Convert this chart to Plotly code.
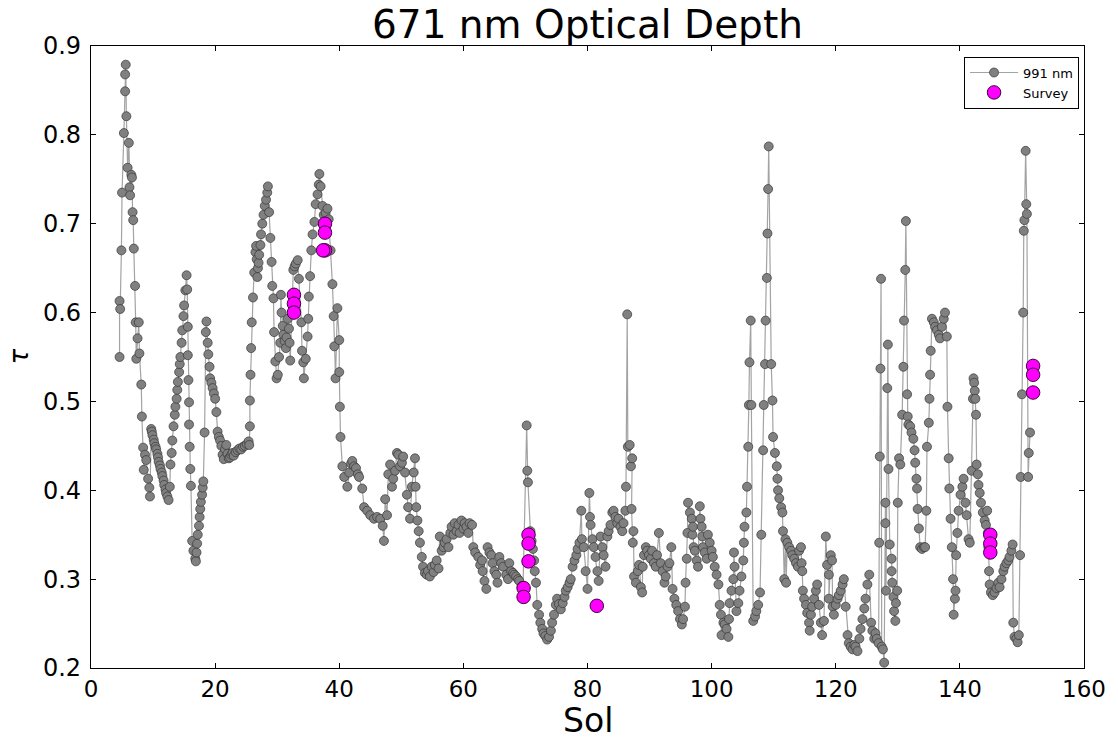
import plotly.graph_objects as go

# ---- 991 nm optical depth series (Sol, tau), in time order ----
sol_seg1 = [4.6,4.6,4.7,4.9,5.0,5.3,5.5,5.5,5.6,5.7,5.9,6.1,6.2,6.3,6.5,6.6,6.7,6.8,6.9,7.1,7.2,7.3,7.5,7.7,7.8,8.1,8.2,8.4,8.5,8.7,8.9,9.2,9.4,9.5,
            9.7,9.8,9.9,10.1,10.2,10.4,10.5,10.7,10.8,10.9,11.1,11.2,11.4,11.5,11.7,11.8,12.0,12.1,12.3,12.5,
            12.7,12.8,13.0,13.1,13.3,13.5,13.6,13.8,13.9,14.0,14.2,14.3,14.4,14.6,14.7,14.9,15.0,15.2,15.4,
            15.5,15.6,15.6,15.7,15.8,15.8,15.9,16.0,16.1,16.3,16.5,16.8,16.9,17.0,17.1,17.2,17.4,17.5,17.6,17.7,
            17.9,18.0,18.1,18.3,18.5,18.6,18.8,18.9,19.1,19.2,19.4,19.6,19.8,20.0,20.2,20.4,20.6,20.8,21.0,21.2,
            21.4,21.6,21.8,22.0,22.2,22.4,22.6,22.8,23.0,23.3,23.6,23.9,24.2,24.5,24.8,25.1,25.4]
tau_seg1 = [0.550,0.613,0.604,0.670,0.735,0.802,0.849,0.868,0.879,0.821,0.763,0.791,0.741,0.732,0.755,0.752,0.713,0.704,0.672,0.630,0.589,0.548,0.571,0.589,0.554,0.519,0.483,0.448,0.423,0.440,0.434,0.413,0.403,0.393,
            0.469,0.466,0.462,0.457,0.453,0.449,0.446,0.441,0.437,0.432,0.428,0.424,0.420,0.416,0.411,0.406,0.401,0.397,0.393,0.389,
            0.404,0.429,0.442,0.456,0.472,0.485,0.494,0.503,0.513,0.522,0.533,0.542,0.550,0.566,0.580,0.596,0.608,0.625,0.642,
            0.626,0.584,0.552,0.524,0.499,0.474,0.449,0.424,0.405,0.343,0.332,0.323,0.320,0.330,0.340,0.350,0.360,0.370,0.379,0.387,
            0.395,0.403,0.410,0.465,0.578,0.590,0.566,0.553,0.539,0.526,0.521,0.515,0.509,0.503,0.488,0.466,0.460,0.456,0.450,0.440,
            0.435,0.446,0.451,0.441,0.436,0.437,0.440,0.442,0.439,0.443,0.445,0.447,0.446,0.449,0.450,0.452,0.455]

sol_seg2 = [25.5,25.6,25.6,25.7,25.8,25.9,26.1,26.3,26.5,26.6,26.7,26.8,26.9,27.0,27.1,27.3,27.4,27.6,27.8,28.0,
            28.2,28.4,28.5,28.7,28.9,29.1,29.2,29.4,29.5,29.7,29.9,30.1,30.3,30.5,30.6,30.7,30.9,31.0,31.2,31.4,
            31.5,31.7,31.9,32.0,32.1,
            32.6,32.8,33.0,33.3,33.5,33.9,34.0,34.2,34.3,34.6,34.9,35.0,35.1,35.3,35.5,35.7,36.0,36.2,36.5,36.7,
            36.8,37.0,37.3,37.5,37.8,38.1,38.3,38.6,38.9,39.1,39.2,39.4,39.7,40.0,40.0,40.1,40.2,40.5,40.8,41.3,
            41.6,41.9,42.1,42.4,42.7,43.0,43.2,43.7,44.0,44.5,45.0,45.6,46.1,46.6,47.0,47.2]
tau_seg2 = [0.451,0.472,0.501,0.530,0.560,0.589,0.617,0.645,0.668,0.675,0.660,0.640,0.650,0.656,0.665,0.676,0.688,0.700,0.710,0.720,
            0.727,0.735,0.742,0.713,0.684,0.657,0.630,0.616,0.578,0.545,0.526,0.530,0.550,0.566,0.620,0.600,0.585,0.575,0.568,0.560,
            0.572,0.593,0.582,0.566,0.546,
            0.648,0.652,0.655,0.659,0.638,0.589,0.557,0.544,0.526,0.548,0.573,0.593,0.618,0.641,0.670,0.688,0.702,0.722,0.733,0.744,
            0.756,0.742,0.720,0.710,0.712,0.717,0.705,0.670,0.632,0.596,0.562,0.526,0.605,0.569,0.533,0.494,0.460,0.427,0.415,0.404,
            0.420,0.430,0.433,0.427,0.425,0.418,0.415,0.402,0.381,0.377,0.372,0.368,0.370,0.368,0.360,0.343]

sol_seg3 = [47.4,47.7,47.9,48.2,48.5,48.7,49.0,49.3,49.5,49.8,50.1,50.3,50.6,50.9,51.1,51.4,51.7,52.0,52.2,52.3,
            52.4,52.6,52.8,53.0,53.3,53.5,53.8,54.1,54.3,54.6,54.9,55.2,55.4,55.7,56.0,56.2,56.5,56.8,57.0,57.3,
            57.6,57.9,58.1,58.4,58.6,58.9,59.2,59.4,59.7,60.0,60.2,60.5,60.8,61.0,61.4,61.6,61.9,62.4,62.7,63.0,
            63.1,63.4,63.7,63.9,64.2,64.5,64.7,65.0,65.3,65.5,65.8,66.1,66.4,66.9,67.2,67.4,67.7,68.0,68.2,68.5,
            68.8,69.0,69.4,69.6,70.2,70.3,70.4,70.8,71.0,71.2,71.4,71.5,71.7,71.9,72.2,72.4,72.7,72.9,73.2,73.5,
            73.8,74.1,74.3,74.6,74.9,75.1,75.4,75.7,76.0,76.3,76.5,76.8,77.1,77.3,77.6,77.9,78.2,78.4,78.7,79.0]
tau_seg3 = [0.390,0.372,0.418,0.429,0.404,0.413,0.422,0.442,0.440,0.427,0.431,0.438,0.420,0.395,0.381,0.368,0.404,0.420,0.436,0.404,
            0.381,0.366,0.354,0.341,0.325,0.314,0.307,0.305,0.309,0.303,0.314,0.308,0.316,0.321,0.312,0.348,0.332,0.336,0.341,0.345,
            0.336,0.352,0.359,0.350,0.363,0.354,0.361,0.352,0.366,0.357,0.363,0.359,0.352,0.363,0.361,0.336,0.330,0.325,0.316,0.321,
            0.309,0.298,0.289,0.336,0.330,0.327,0.318,0.309,0.305,0.296,0.325,0.318,0.314,0.305,0.300,0.318,0.309,0.307,0.305,0.303,
            0.300,0.298,0.292,0.287,0.473,0.422,0.409,0.354,0.343,0.334,0.321,0.309,0.296,0.271,0.260,0.251,0.244,0.239,0.236,0.232,
            0.235,0.242,0.251,0.260,0.271,0.278,0.272,0.266,0.273,0.280,0.287,0.291,0.296,0.300,0.314,0.321,0.327,0.334,0.341,0.377]

sol_seg4 = [79.1,79.4,79.7,80.0,80.3,80.4,80.5,80.8,81.0,81.3,81.6,81.8,82.1,82.4,82.6,82.9,83.2,83.4,83.7,84.0,
            84.2,84.5,84.8,85.0,85.3,85.6,85.8,86.1,86.2,86.4,86.5,86.8,87.0,87.2,87.1,87.3,87.4,87.5,87.8,88.1,
            88.3,88.6,88.8,88.9,89.1,89.4,89.6,89.9,90.2,90.4,90.7,91.0,91.2,91.5,91.8,92.1,92.4,92.6,92.9,93.2,
            93.5,93.7,94.0,94.3,94.6,94.9,
            95.2,95.4,95.7,95.8,96.0,96.1,96.2,96.5,96.8,96.9,97.0,97.1,97.3,97.6,97.8,98.1,98.2,98.4,98.5,98.6,
            98.9,99.2,99.4,99.7,100.0,100.2,100.5,100.8,101.1,101.3,101.5,101.6,101.9,102.1,102.4,102.7,102.8,102.9,103.2,103.5,
            103.6,103.7,104.0,104.3,104.5,104.8,105.1,105.2,105.3,105.6,105.7,105.9,106.0,106.1,106.3,106.4,106.7,107.0,107.2,107.5,
            107.8,108.0,108.3,108.4,108.6,108.7,108.9,109.0,109.1,109.2,109.6,109.8,109.9,110.2,110.5,110.6,110.7]
tau_seg4 = [0.345,0.336,0.309,0.289,0.397,0.370,0.361,0.345,0.336,0.325,0.309,0.298,0.348,0.336,0.327,0.314,0.348,0.354,0.361,0.375,
            0.377,0.370,0.363,0.368,0.359,0.354,0.363,0.377,0.404,0.598,0.449,0.451,0.427,0.436,0.379,0.341,0.354,0.303,0.296,0.309,
            0.316,0.291,0.285,0.314,0.327,0.336,0.332,0.327,0.323,0.332,0.318,0.314,0.327,0.352,0.318,0.309,0.296,0.303,0.314,0.318,
            0.336,0.289,0.278,0.271,0.264,0.255,
            0.249,0.255,0.269,0.296,0.323,0.352,0.386,0.375,0.368,0.350,0.359,0.336,0.332,0.321,0.314,0.382,0.368,0.359,0.348,0.336,
            0.330,0.323,0.350,0.341,0.332,0.325,0.314,0.305,0.294,0.271,0.260,0.237,0.251,0.249,0.244,0.235,0.255,0.273,0.287,0.300,
            0.330,0.314,0.264,0.273,0.287,0.303,0.321,0.341,0.359,0.375,0.404,0.449,0.496,0.544,0.591,0.496,0.253,0.258,0.264,0.271,
            0.285,0.350,0.445,0.496,0.542,0.591,0.639,0.689,0.739,0.787,0.542,0.501,0.460,0.442,0.427,0.413,0.400]

sol_seg5 = [110.9,111.2,111.4,111.5,111.7,111.9,112.0,112.2,112.5,112.8,113.0,113.3,113.6,113.9,114.1,114.4,114.5,114.6,114.7,114.9,
            115.2,115.4,115.7,115.8,116.0,116.2,116.5,116.8,117.0,117.3,117.6,117.8,118.1,118.4,118.6,118.9,118.9,119.2,119.4,119.5,
            119.7,120.0,120.3,120.5,120.8,121.1,121.3,121.6,121.9,122.1,122.4,122.7,123.0,123.2,123.5,123.8,124.0,124.3,124.6,124.8,
            125.1,125.4,125.7,125.9,126.2]
tau_seg5 = [0.391,0.381,0.375,0.354,0.300,0.345,0.296,0.341,0.336,0.332,0.327,0.323,0.318,0.314,0.332,0.336,0.318,0.309,0.287,0.278,
            0.271,0.262,0.251,0.242,0.260,0.269,0.278,0.287,0.294,0.271,0.251,0.237,0.253,0.348,0.316,0.305,0.278,0.327,0.321,0.269,
            0.260,0.271,0.278,0.282,0.287,0.294,0.300,0.269,0.237,0.228,0.224,0.221,0.226,0.224,0.219,0.233,0.244,0.255,0.267,0.278,
            0.294,0.305,0.251,0.242,0.233]

sol_seg6 = [126.4,126.6,126.9,127.0,127.1,127.2,127.3,127.4,127.6,127.8,128.0,128.0,128.1,128.3,128.4,128.5,128.7,129.0,129.0,129.1,
            129.3,129.4,129.6,129.7,129.9,130.0,130.2,130.4,130.7,130.9,131.0,131.2,131.3,131.5,131.6,131.7,132.0,132.2,132.5,132.7,
            132.8,133.0,133.1,133.2,133.4,133.6,133.9,134.2,134.4,134.6,134.7,135.0,135.1,135.2,135.3,135.5,135.8,136.0,136.3,136.6,
            136.8,137.1,137.4,137.6,137.9,138.0,138.2,138.3,138.5,138.7,138.9,139.0,139.2,139.3,139.4,139.6,139.8,140.1,140.4,140.6,
            140.9,141.1,141.4,141.6,141.9,142.1,142.2,
            142.3,142.4,142.5,142.6,142.7,142.9,143.0,143.2,143.4,143.7,144.0,144.2,144.4,144.5,144.6,144.7,144.8,145.0,145.3,145.6,
            145.9,146.2,146.4,146.7,147.0,147.2,147.5,147.8,148.0,148.3,148.5,148.6,148.8,149.1,149.3,149.5,149.7,149.8,150.0,150.2,
            150.3,150.4,150.6,150.7,150.8,151.0,151.1,151.3]
tau_seg6 = [0.239,0.233,0.228,0.341,0.438,0.537,0.638,0.224,0.221,0.206,0.363,0.386,0.287,0.515,0.564,0.424,0.339,0.323,0.309,0.296,
            0.280,0.264,0.253,0.273,0.287,0.386,0.436,0.429,0.485,0.539,0.591,0.648,0.703,0.508,0.483,0.474,0.472,0.465,0.458,0.445,
            0.431,0.413,0.402,0.379,0.357,0.336,0.334,0.336,0.336,0.377,0.449,0.476,0.503,0.530,0.557,0.593,0.589,0.584,0.580,0.575,
            0.571,0.584,0.593,0.600,0.573,0.494,0.436,0.402,0.368,0.336,0.300,0.260,0.278,0.287,0.327,0.352,0.377,0.395,0.404,0.413,
            0.386,0.372,0.345,0.341,0.422,0.503,0.526,
            0.521,0.512,0.503,0.485,0.429,0.418,0.406,0.397,0.386,0.375,0.366,0.361,0.377,0.352,0.336,0.309,0.294,0.285,0.282,0.285,
            0.290,0.296,0.291,0.300,0.309,0.314,0.318,0.321,0.325,0.332,0.339,0.251,0.235,0.233,0.229,0.237,0.327,0.415,0.508,0.600,
            0.692,0.704,0.782,0.722,0.711,0.415,0.442,0.465]

# ---- Survey points ----
survey_sol = [32.7, 32.7, 32.7, 37.7, 37.7, 37.7, 37.4, 69.7, 69.7, 70.5, 70.5, 70.5, 81.5,
              144.9, 144.9, 144.9, 151.8, 151.8, 151.8]
survey_tau = [0.62, 0.61, 0.60, 0.70, 0.69, 0.67, 0.67, 0.29, 0.28, 0.35, 0.34, 0.32, 0.27,
              0.35, 0.34, 0.33, 0.54, 0.53, 0.51]

x_ticks = [0, 20, 40, 60, 80, 100, 120, 140, 160]
y_ticks = [0.2, 0.3, 0.4, 0.5, 0.6, 0.7, 0.8, 0.9]

segs = [(sol_seg1, tau_seg1), (sol_seg2, tau_seg2), (sol_seg3, tau_seg3),
        (sol_seg4, tau_seg4), (sol_seg5, tau_seg5), (sol_seg6, tau_seg6)]
sol_all, tau_all = [], []
for s, t in segs:
    assert len(s) == len(t), (len(s), len(t))
    sol_all += s
    tau_all += t

FONT = "DejaVu Sans"
fig = go.Figure()
fig.add_trace(go.Scatter(
    x=sol_all, y=tau_all, mode="lines+markers", name="991 nm",
    line=dict(color="rgba(140,140,140,0.8)", width=1.2),
    marker=dict(size=9, color="rgb(128,128,128)", line=dict(color="rgb(55,55,55)", width=0.7)),
))
fig.add_trace(go.Scatter(
    x=survey_sol, y=survey_tau, mode="markers", name="Survey",
    marker=dict(size=13.5, color="#ff00ff", line=dict(color="rgb(60,0,60)", width=1)),
))

axis_common = dict(showline=True, linecolor="black", linewidth=1.2, mirror="ticks",
                   ticks="inside", ticklen=5, tickwidth=1, tickcolor="black",
                   showgrid=False, zeroline=False)
fig.update_xaxes(range=[0, 160], tickvals=x_ticks, ticktext=[str(v) for v in x_ticks],
                 tickfont=dict(family=FONT, size=23, color="black"), **axis_common)
fig.update_yaxes(range=[0.2, 0.9], tickvals=y_ticks, ticktext=[f"{v:.1f}" for v in y_ticks],
                 tickfont=dict(family=FONT, size=24, color="black"),
                 ticklabelstandoff=4, **axis_common)

fig.update_layout(
    width=1118, height=740,
    margin=dict(l=91, r=31, t=46, b=72),
    paper_bgcolor="white", plot_bgcolor="white",
    font=dict(family=FONT, color="black"),
    showlegend=True,
    legend=dict(x=0.995, y=0.983, xanchor="right", yanchor="top",
                bgcolor="white", bordercolor="black", borderwidth=1,
                font=dict(family=FONT, size=13, color="black"),
                itemwidth=48, tracegroupgap=2),
    annotations=[
        dict(text="671 nm Optical Depth", xref="paper", yref="paper", x=0.5, y=1.034,
             xanchor="center", yanchor="middle", showarrow=False,
             font=dict(family=FONT, size=39, color="black")),
        dict(text="Sol", xref="paper", yref="paper", x=0.5, y=-0.0852,
             xanchor="center", yanchor="middle", showarrow=False,
             font=dict(family=FONT, size=33, color="black")),
        dict(text="<i>τ</i>", xref="paper", yref="paper", x=-0.073, y=0.5,
             xanchor="center", yanchor="middle", showarrow=False, textangle=-90,
             font=dict(family=FONT, size=26, color="black")),
    ],
)

fig.write_html("out.html", config={"displayModeBar": False})
